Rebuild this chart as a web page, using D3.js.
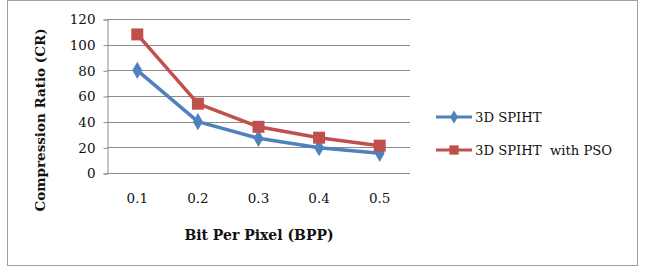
<!DOCTYPE html>
<html>
<head>
<meta charset="utf-8">
<script src="https://cdn.jsdelivr.net/npm/d3@7"></script>
<style>
body { margin: 0; background: #fff; }
</style>
</head>
<body>
<script>
const categories = ["0.1", "0.2", "0.3", "0.4", "0.5"]
const spiht = [80, 40, 27, 19.7, 15.3]
const spihtPso = [108, 54, 36, 27.5, 21.3]
const yTicks = [0, 20, 40, 60, 80, 100, 120]

const series = [
    { name: "3D SPIHT", values: spiht, color: "#4F81BD", shape: d3.symbolDiamond, size: 85 },
    { name: "3D SPIHT  with PSO", values: spihtPso, color: "#C0504D", shape: d3.symbolSquare, size: 144 }
]

const svg = d3.select("body")
    .append("svg")
    .attr("width", 652)
    .attr("height", 268)

// chart frame
svg.append("rect")
    .attr("x", 7.5).attr("y", 0.5)
    .attr("width", 630).attr("height", 265)
    .attr("fill", "#fff")
    .attr("stroke", "#a0a0a0")

const plotL = 107, plotR = 410, plotT = 19, plotB = 173

const x = d3.scaleBand()
    .domain(categories)
    .range([plotL, plotR])

const y = d3.scaleLinear()
    .domain([0, 120])
    .range([plotB, plotT])

// gridlines
svg.append("g")
    .selectAll("line")
    .data(yTicks.slice(1))
    .join("line")
        .attr("x1", plotL).attr("x2", plotR)
        .attr("y1", d => Math.round(y(d)) + 0.5)
        .attr("y2", d => Math.round(y(d)) + 0.5)
        .attr("stroke", "#8c8c8c")

// y axis
const yAxis = svg.append("g")
    .attr("transform", `translate(${plotL + 0.5}, 0.5)`)
    .call(d3.axisLeft(y).tickValues(yTicks).tickSize(4).tickPadding(8))
yAxis.selectAll("path, line").attr("stroke", "#8c8c8c")
yAxis.selectAll("text")
    .attr("font-family", "DejaVu Serif")
    .attr("font-size", 13.5)
    .attr("fill", "#111")

// x axis
const xAxis = svg.append("g")
    .attr("transform", `translate(0, ${plotB + 0.5})`)
    .call(d3.axisBottom(x).tickSize(0).tickPadding(20))
xAxis.select("path").attr("stroke", "#8c8c8c").attr("d", `M${plotL},0H${plotR}`)
xAxis.selectAll("text")
    .attr("font-family", "DejaVu Serif")
    .attr("font-size", 13.5)
    .attr("fill", "#111")

// axis titles
svg.append("text")
    .attr("x", 259).attr("y", 240)
    .attr("text-anchor", "middle")
    .attr("font-family", "DejaVu Serif")
    .attr("font-weight", "bold")
    .attr("font-size", 14)
    .attr("fill", "#111")
    .text("Bit Per Pixel (BPP)")

svg.append("text")
    .attr("transform", "translate(45, 120) rotate(-90)")
    .attr("text-anchor", "middle")
    .attr("font-family", "DejaVu Serif")
    .attr("font-weight", "bold")
    .attr("font-size", 13.5)
    .attr("fill", "#111")
    .text("Compression Ratio (CR)")

const line = d3.line()
    .x((d, i) => x(categories[i]) + x.bandwidth() / 2)
    .y(d => y(d))

series.forEach(s => {
    svg.append("path")
        .datum(s.values)
        .attr("d", line)
        .attr("fill", "none")
        .attr("stroke", s.color)
        .attr("stroke-width", 3.5)
        .attr("stroke-linejoin", "round")

    svg.append("g")
        .selectAll("path")
        .data(s.values)
        .join("path")
            .attr("transform", (d, i) => `translate(${x(categories[i]) + x.bandwidth() / 2}, ${y(d)})`)
            .attr("d", d3.symbol().type(s.shape).size(s.size))
            .attr("fill", s.color)
})

// legend
const legend = svg.append("g")
    .selectAll("g")
    .data(series)
    .join("g")
        .attr("transform", (d, i) => `translate(436, ${117 + i * 33})`)

legend.append("line")
    .attr("x1", 0).attr("x2", 36)
    .attr("stroke", d => d.color)
    .attr("stroke-width", 3)

legend.append("path")
    .attr("transform", "translate(18, 0)")
    .attr("d", d => d3.symbol().type(d.shape).size(d.size * 0.6)())
    .attr("fill", d => d.color)

legend.append("text")
    .attr("x", 39).attr("y", 5)
    .attr("font-family", "DejaVu Serif")
    .attr("font-size", 13.2)
    .attr("fill", "#111")
    .style("white-space", "pre")
    .text(d => d.name)
</script>
</body>
</html>
